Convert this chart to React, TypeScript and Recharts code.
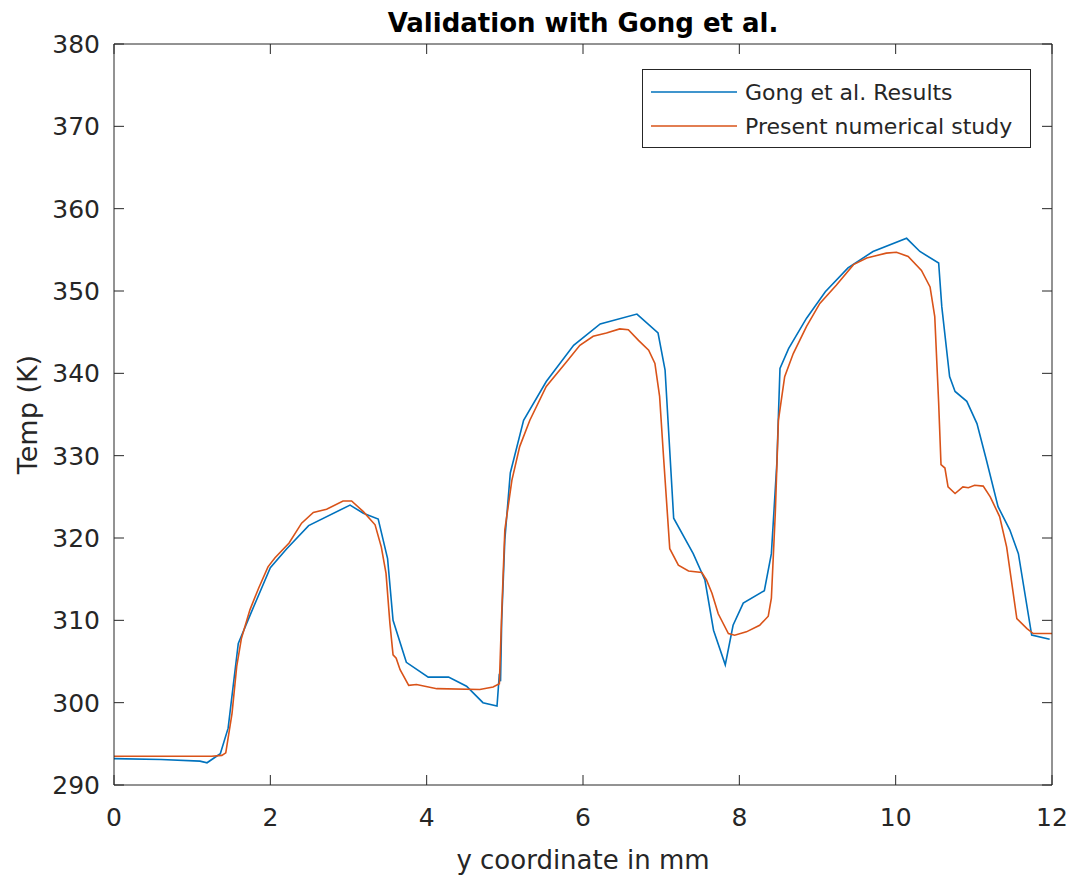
import { Legend, Line, LineChart, XAxis, YAxis } from "recharts";

// Gong et al. reference curve
const gongX = [
  0, 0.6, 1.1, 1.19, 1.36, 1.46, 1.59, 1.74, 2.0, 2.21, 2.49, 3.02, 3.19, 3.38, 3.5, 3.57, 3.74, 4.02,
  4.28, 4.51, 4.72, 4.9, 4.93, 4.945, 4.96, 5.0, 5.07, 5.24, 5.53, 5.88, 6.22, 6.69, 6.96, 7.05, 7.16,
  7.41, 7.56, 7.67, 7.82, 7.92, 8.05, 8.32, 8.41, 8.48, 8.52, 8.63, 8.86, 9.1, 9.39, 9.71, 10.14, 10.31,
  10.55, 10.59, 10.69, 10.76, 10.91, 11.04, 11.16, 11.31, 11.46, 11.57, 11.74, 11.97,
];
const gongTemp = [
  293.2, 293.1, 292.9, 292.7, 293.8, 296.9, 307.2, 310.6, 316.4, 318.7, 321.5, 324.0, 323.0, 322.3, 317.5,
  310.0, 304.9, 303.1, 303.1, 302.0, 300.0, 299.6, 303.5, 302.6, 310.0, 319.8, 327.9, 334.3, 339.0, 343.4,
  346.0, 347.2, 344.9, 340.4, 322.4, 318.1, 314.9, 308.8, 304.6, 309.4, 312.1, 313.6, 318.1, 329.1, 340.6,
  343.0, 346.7, 349.9, 352.8, 354.8, 356.4, 354.8, 353.4, 348.1, 339.6, 337.8, 336.6, 333.9, 329.5, 323.8,
  321.0, 318.1, 308.2, 307.7,
];

// present numerical study
const presentX = [
  0, 1.25, 1.38, 1.43, 1.51, 1.57, 1.63, 1.74, 1.85, 1.97, 2.06, 2.24, 2.4, 2.55, 2.72, 2.93, 3.04, 3.19,
  3.34, 3.42, 3.48, 3.53, 3.57, 3.61, 3.66, 3.77, 3.87, 4.13, 4.68, 4.85, 4.93, 4.96, 5.0, 5.09, 5.19,
  5.32, 5.53, 5.79, 5.96, 6.13, 6.3, 6.47, 6.58, 6.71, 6.84, 6.92, 6.98, 7.03, 7.11, 7.22, 7.35, 7.52,
  7.58, 7.65, 7.73, 7.86, 7.94, 8.09, 8.26, 8.37, 8.41, 8.46, 8.5, 8.58, 8.69, 8.86, 9.03, 9.24, 9.46,
  9.63, 9.88, 10.01, 10.16, 10.33, 10.44, 10.5, 10.55, 10.58, 10.63, 10.67, 10.76, 10.86, 10.93, 11.01,
  11.12, 11.21, 11.33, 11.42, 11.55, 11.68, 11.76, 12.0,
];
const presentTemp = [
  293.5, 293.5, 293.6, 293.9, 298.7, 304.4, 307.8, 311.3, 313.9, 316.5, 317.6, 319.4, 321.8, 323.1, 323.5,
  324.5, 324.5, 323.2, 321.6, 318.9, 315.7, 309.6, 305.8, 305.4, 304.0, 302.1, 302.2, 301.7, 301.6, 301.9,
  302.3, 310.9, 321.0, 327.0, 331.1, 334.3, 338.4, 341.4, 343.4, 344.5, 344.9, 345.4, 345.3, 344.0, 342.8,
  341.2, 337.2, 329.9, 318.7, 316.7, 316.0, 315.8, 314.9, 313.3, 310.8, 308.4, 308.2, 308.6, 309.4, 310.5,
  312.7, 323.0, 334.3, 339.6, 342.4, 345.7, 348.5, 350.7, 353.2, 354.0, 354.6, 354.7, 354.2, 352.5, 350.5,
  346.9, 336.4, 328.9, 328.5, 326.2, 325.4, 326.2, 326.1, 326.4, 326.3, 325.0, 322.6, 318.9, 310.2, 309.0,
  308.4, 308.4,
];

const xTicks = [0, 2, 4, 6, 8, 10, 12];
const yTicks = [290, 300, 310, 320, 330, 340, 350, 360, 370, 380];

const gongData = gongX.map((x, i) => ({ x, temp: gongTemp[i] }));
const presentData = presentX.map((x, i) => ({ x, temp: presentTemp[i] }));

const AXIS = "#262626";
const FONT = "'DejaVu Sans', sans-serif";

const BottomTick = ({ x, y, payload }: any) => (
  <g>
    <line x1={x} y1={y} x2={x} y2={y - 10} stroke={AXIS} />
    <text x={x} y={y + 41} textAnchor="middle" fontSize={25} fill={AXIS}>
      {payload.value}
    </text>
  </g>
);

const LeftTick = ({ x, y, payload }: any) => (
  <g>
    <line x1={x} y1={y} x2={x + 10} y2={y} stroke={AXIS} />
    <text x={x - 14} y={y + 9} textAnchor="end" fontSize={25} fill={AXIS}>
      {payload.value}
    </text>
  </g>
);

const TopTick = ({ x, y }: any) => <line x1={x} y1={y} x2={x} y2={y + 10} stroke={AXIS} />;
const RightTick = ({ x, y }: any) => <line x1={x} y1={y} x2={x - 10} y2={y} stroke={AXIS} />;

const LegendBox = ({ payload }: any) => (
  <div
    style={{
      width: 389,
      height: 79,
      boxSizing: "border-box",
      border: `1px solid ${AXIS}`,
      background: "#fff",
      paddingTop: 5,
      fontFamily: FONT,
    }}
  >
    {(payload || [])
      .filter((p: any) => p.type !== "none")
      .map((p: any) => (
        <div key={p.value} style={{ display: "flex", alignItems: "center", height: 34 }}>
          <svg width={95} height={4} style={{ flex: "none" }}>
            <line x1={8} y1={2} x2={94} y2={2} stroke={p.color} strokeWidth={1.6} />
          </svg>
          <span style={{ marginLeft: 7, fontSize: 22, color: AXIS, whiteSpace: "nowrap" }}>{p.value}</span>
        </div>
      ))}
  </div>
);

export default function App() {
  return (
    <div style={{ position: "absolute", left: 0, top: 0, background: "#fff", fontFamily: FONT }}>
      <LineChart width={1076} height={881} margin={{ top: 34, right: 14, bottom: 36, left: 54 }}>
        <XAxis
          xAxisId="b"
          dataKey="x"
          type="number"
          domain={[0, 12]}
          ticks={xTicks}
          interval={0}
          height={60}
          tickSize={0}
          tickMargin={0}
          tickLine={false}
          tick={<BottomTick />}
          axisLine={{ stroke: AXIS }}
          label={{
            content: ({ viewBox }: any) => (
              <text
                x={viewBox.x + viewBox.width / 2}
                y={viewBox.y + 84}
                textAnchor="middle"
                fontSize={26}
                fill={AXIS}
              >
                y coordinate in mm
              </text>
            ),
          }}
        />
        <XAxis
          xAxisId="t"
          orientation="top"
          dataKey="x"
          type="number"
          domain={[0, 12]}
          ticks={xTicks}
          interval={0}
          height={10}
          tickSize={0}
          tickMargin={0}
          tickLine={false}
          tick={<TopTick />}
          axisLine={{ stroke: AXIS }}
          label={{
            content: ({ viewBox }: any) => (
              <text
                x={viewBox.x + viewBox.width / 2}
                y={viewBox.y - 2}
                textAnchor="middle"
                fontSize={26}
                fontWeight="bold"
                fill="#000"
              >
                Validation with Gong et al.
              </text>
            ),
          }}
        />
        <YAxis
          yAxisId="l"
          type="number"
          domain={[290, 380]}
          ticks={yTicks}
          interval={0}
          width={60}
          tickSize={0}
          tickMargin={0}
          tickLine={false}
          tick={<LeftTick />}
          axisLine={{ stroke: AXIS }}
          label={{
            content: ({ viewBox }: any) => {
              const cy = viewBox.y + viewBox.height / 2;
              return (
                <text
                  x={37}
                  y={cy}
                  transform={`rotate(-90, 37, ${cy})`}
                  textAnchor="middle"
                  fontSize={27}
                  fill={AXIS}
                >
                  Temp (K)
                </text>
              );
            },
          }}
        />
        <YAxis
          yAxisId="r"
          orientation="right"
          type="number"
          domain={[290, 380]}
          ticks={yTicks}
          interval={0}
          width={10}
          tickSize={0}
          tickMargin={0}
          tickLine={false}
          tick={<RightTick />}
          axisLine={{ stroke: AXIS }}
        />
        <Legend
          layout="vertical"
          align="center"
          verticalAlign="middle"
          content={<LegendBox />}
          wrapperStyle={{ position: "absolute", left: 642, top: 69, width: 389 }}
        />
        {/* invisible copy so the mirrored top/right axes get a domain */}
        <Line
          xAxisId="t"
          yAxisId="r"
          data={gongData}
          dataKey="temp"
          stroke="none"
          dot={false}
          activeDot={false}
          legendType="none"
          isAnimationActive={false}
        />
        <Line
          xAxisId="b"
          yAxisId="l"
          data={gongData}
          dataKey="temp"
          name="Gong et al. Results"
          type="linear"
          stroke="#0072BD"
          strokeWidth={1.6}
          dot={false}
          isAnimationActive={false}
        />
        <Line
          xAxisId="b"
          yAxisId="l"
          data={presentData}
          dataKey="temp"
          name="Present numerical study"
          type="linear"
          stroke="#D95319"
          strokeWidth={1.6}
          dot={false}
          isAnimationActive={false}
        />
      </LineChart>
    </div>
  );
}
